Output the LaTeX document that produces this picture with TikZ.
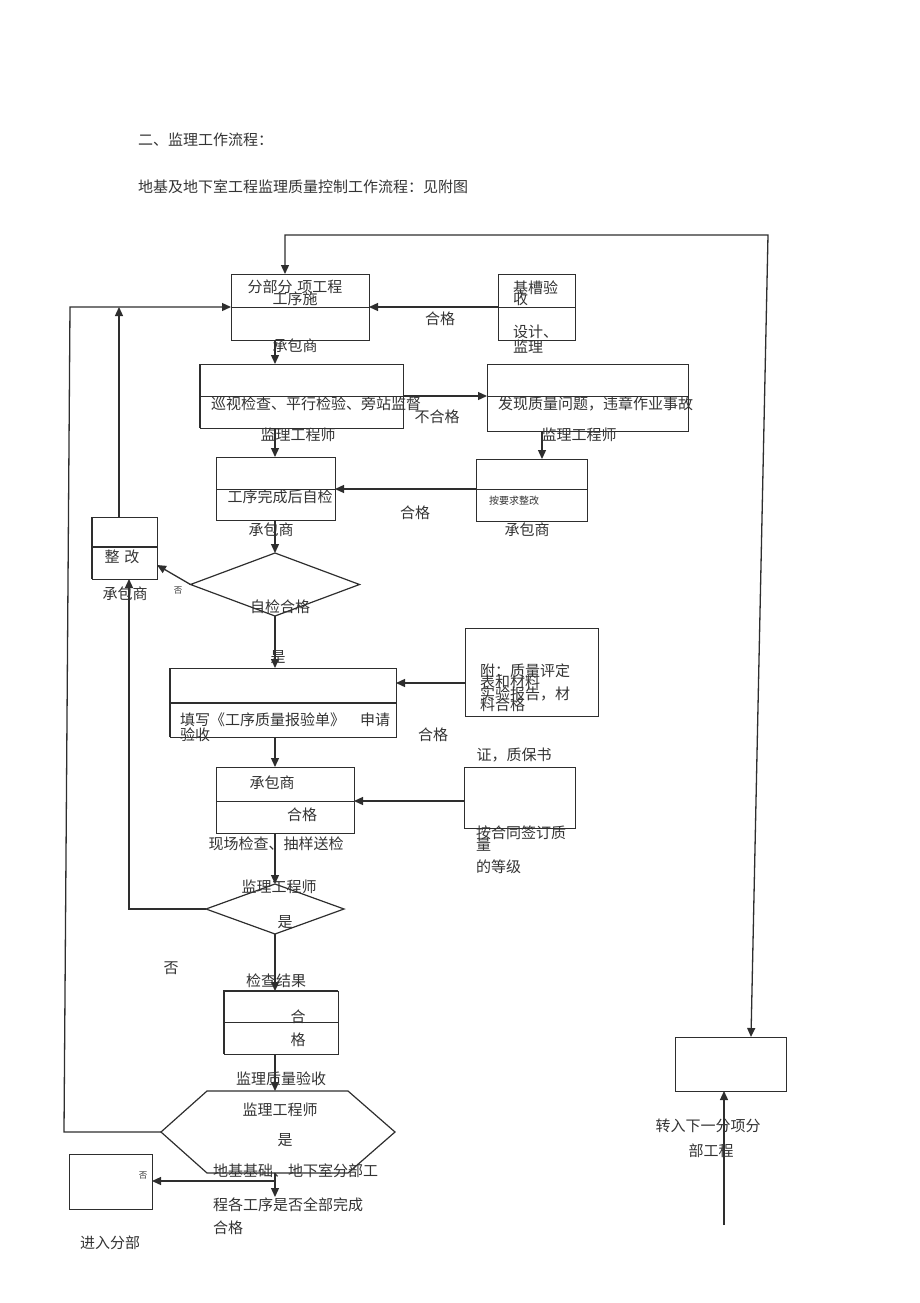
\documentclass[tikz,border=0pt]{standalone}
\usepackage{fontspec}
\setmainfont{Noto Sans CJK SC}
\usetikzlibrary{arrows.meta,shapes.geometric}
\definecolor{lc}{HTML}{2E2E2E}
\definecolor{tc}{HTML}{333333}
\newcommand\bx[5]{\node[box, minimum width={#4-#2}, minimum height={#5-#3}] (#1) at ({(#2+#4)/2},{(#3+#5)/2}) {};}
\newcommand\hln[2]{\draw[ln] (#1.west |- 0,#2) -- (#1.east |- 0,#2);}
\begin{document}
\begin{tikzpicture}[x=1pt,y=-1pt,
  box/.style={draw=lc, line width=1pt, inner sep=0pt, outer sep=0pt, fill=none},
  dia/.style={draw=lc, line width=1.2pt, diamond, inner sep=0pt, outer sep=0pt},
  lbl/.style={text=tc, font=\fontsize{15}{17}\selectfont, inner sep=0pt, outer sep=0pt},
  sml/.style={text=tc, font=\fontsize{10}{12}\selectfont, inner sep=0pt},
  tiny/.style={text=tc, font=\fontsize{8.5}{10}\selectfont, inner sep=0pt},
  ln/.style={draw=lc, line width=1pt},
  thk/.style={draw=lc, line width=2pt},
  arr/.style={draw=lc, line width=1.3pt, -{Triangle[length=9pt,width=8pt]}},
  darr/.style={draw=lc, line width=1.3pt, {Triangle[length=9pt,width=8pt]}-{Triangle[length=9pt,width=8pt]}}]
\useasboundingbox (0,0) rectangle (920,1303);

% header
\node[lbl, anchor=west] (h1) at (138,140) {二、监理工作流程：};
\node[lbl, anchor=west] (h2) at (138,187) {地基及地下室工程监理质量控制工作流程：见附图};

% boxes
\bx{b1}{231}{274}{369}{340} \hln{b1}{307}
\bx{bjc}{498}{274}{575}{340} \hln{bjc}{307}
\bx{b2}{200}{364}{403}{428} \hln{b2}{396}
\draw[thk] (b2.north west) -- (b2.south west);
\bx{b3}{487}{364}{688}{431} \hln{b3}{396}
\bx{b4}{476}{459}{587}{521} \hln{b4}{489}
\bx{b5}{216}{457}{335}{520} \hln{b5}{489}
\bx{bzg}{92}{517}{157}{579}
\draw[thk] (bzg.west |- 0,547) -- (bzg.east |- 0,547);
\draw[thk] (bzg.north west) -- (bzg.south west);
\bx{b6}{170}{668}{396}{737}
\draw[thk] (b6.west |- 0,703) -- (b6.east |- 0,703);
\draw[thk] (b6.north west) -- (b6.south west);
\bx{b7}{465}{628}{598}{716}
\bx{b8}{216}{767}{354}{833} \hln{b8}{801}
\bx{b9}{464}{767}{575}{828}
\bx{b10}{224}{991}{338}{1054} \hln{b10}{1022}
\draw[thk] (b10.south west) -- (b10.north west) -- (b10.north east);
\bx{b11}{69}{1154}{152}{1209}
\bx{b12}{675}{1037}{786}{1091}

% diamonds
\node[dia, minimum width=169, minimum height=63] (d1) at (275,584.5) {};
\node[dia, minimum width=138, minimum height=50] (d2) at (275,909) {};

% hexagon
\coordinate (hxTL) at (207,1091);
\coordinate (hxTR) at (348,1091);
\coordinate (hxR) at (395,1132);
\coordinate (hxBR) at (348,1173);
\coordinate (hxBL) at (207,1173);
\coordinate (hxL) at (161,1132);
\coordinate (hxT) at (275,1091);
\coordinate (hxB) at (275,1173);
\draw[draw=lc, line width=1.2pt] (hxTL) -- (hxTR) -- (hxR) -- (hxBR) -- (hxBL) -- (hxL) -- cycle;

% free points
\coordinate (topL) at (285,235);
\coordinate (topR) at (768,235);
\coordinate (lftT) at (70,307);
\coordinate (lftB) at (64,1132);
\coordinate (zgL) at (129,909);
\coordinate (hxD) at (275,1197);
\coordinate (hxJ) at (275,1181);
\coordinate (btm) at (724,1225);

% connectors
\draw[darr] (b1.north -| topL) -- (topL) -- (topR) -- (b12.north -| 751,0);
\draw[arr] (bjc.west |- 0,307) -- (b1.east |- 0,307);
\draw[arr] (hxL) -- (lftB) -- (lftT) -- (b1.west |- 0,307);
\draw[arr] (bzg.north -| 119,0) -- (119,307);
\draw[arr] (b1.south -| 275,0) -- (b2.north -| 275,0);
\draw[arr] (b2.south -| 275,0) -- (b5.north -| 275,0);
\draw[arr] (b2.east |- 0,396) -- (b3.west |- 0,396);
\draw[arr] (b3.south -| 542,0) -- (b4.north -| 542,0);
\draw[arr] (b4.west |- 0,489) -- (b5.east |- 0,489);
\draw[arr] (b5.south -| 275,0) -- (d1.north);
\draw[arr] (d1.west) -- (157,565);
\draw[arr] (d1.south) -- (b6.north -| 275,0);
\draw[arr] (b7.west |- 0,683) -- (b6.east |- 0,683);
\draw[arr] (b6.south -| 275,0) -- (b8.north -| 275,0);
\draw[arr] (b9.west |- 0,801) -- (b8.east |- 0,801);
\draw[arr] (b8.south -| 275,0) -- (d2.north);
\draw[arr] (d2.west) -- (zgL) -- (bzg.south -| zgL);
\draw[arr] (d2.south) -- (b10.north -| 275,0);
\draw[arr] (b10.south -| 275,0) -- (hxT);
\draw[arr] (hxB) -- (hxD);
\draw[arr] (hxJ) -- (b11.east |- hxJ);
\draw[arr] (btm) -- (b12.south -| btm);

% texts
\node[lbl] (t1a) at (295,287) {分部分\,\,项工程};
\node[lbl] (t1b) at (295,299) {工序施};
\node[lbl] (t1c) at (295,346) {承包商};
\node[lbl, anchor=west] (tj1) at (513,288) {基槽验};
\node[lbl, anchor=west] (tj2) at (513,299) {收};
\node[lbl, anchor=west] (tj3) at (513,332) {设计、};
\node[lbl, anchor=west] (tj4) at (513,347) {监理};
\node[lbl] (tq1) at (440,319) {合格};
\node[lbl, anchor=west] (t2a) at (211,404) {巡视检查、平行检验、旁站监督};
\node[lbl] (t2b) at (437,417) {不合格};
\node[lbl] (t2c) at (298,435) {监理工程师};
\node[lbl, anchor=west] (t3a) at (498,404) {发现质量问题，违章作业事故};
\node[lbl] (t3b) at (579,435) {监理工程师};
\node[sml, anchor=west] (t4a) at (489,501) {按要求整改};
\node[lbl] (t4b) at (527,530) {承包商};
\node[lbl] (t5a) at (280,497) {工序完成后自检};
\node[lbl] (tq2) at (415,513) {合格};
\node[lbl] (t5b) at (271,530) {承包商};
\node[lbl] (tzg) at (122,557) {整\,\,改};
\node[lbl] (tzgb) at (125,594) {承包商};
\node[tiny] (tf1) at (178,591) {否};
\node[lbl] (td1) at (280,607) {自检合格};
\node[lbl] (ts1) at (278,657) {是};
\node[lbl, anchor=west] (t6a) at (180,720) {填写《工序质量报验单》\quad 申请};
\node[lbl, anchor=west] (t6b) at (180,735) {验收};
\node[lbl] (tq3) at (433,735) {合格};
\node[lbl, anchor=west] (t7a) at (480,671) {附：质量评定};
\node[lbl, anchor=west] (t7b) at (480,682) {表和材料};
\node[lbl, anchor=west] (t7c) at (480,694) {实验报告，材};
\node[lbl, anchor=west] (t7d) at (480,705) {料合格};
\node[lbl] (t7e) at (514,755) {证，质保书};
\node[lbl] (t8a) at (272,783) {承包商};
\node[lbl] (t8b) at (302,815) {合格};
\node[lbl] (t8c) at (276,844) {现场检查、抽样送检};
\node[lbl, anchor=west] (t9a) at (476,833) {按合同签订质};
\node[lbl, anchor=west] (t9b) at (476,845) {量};
\node[lbl, anchor=west] (t9c) at (476,867) {的等级};
\node[lbl] (td2a) at (279,887) {监理工程师};
\node[lbl] (td2b) at (285,922) {是};
\node[lbl] (tf2) at (171,968) {否};
\node[lbl] (t10a) at (276,981) {检查结果};
\node[lbl] (t10b) at (298,1017) {合};
\node[lbl] (t10c) at (298,1040) {格};
\node[lbl] (thx0) at (281,1079) {监理质量验收};
\node[lbl] (thx1) at (280,1110) {监理工程师};
\node[lbl] (thx2) at (285,1140) {是};
\node[lbl, anchor=west] (thx3) at (213,1171) {地基基础、地下室分部工};
\node[lbl, anchor=west] (thx4) at (213,1205) {程各工序是否全部完成};
\node[lbl, anchor=west] (thx5) at (213,1228) {合格};
\node[tiny] (tf3) at (143,1175) {否};
\node[lbl] (t11) at (110,1243) {进入分部};
\node[lbl] (t12a) at (708,1126) {转入下一分项分};
\node[lbl] (t12b) at (711,1151) {部工程};
\end{tikzpicture}
\end{document}
